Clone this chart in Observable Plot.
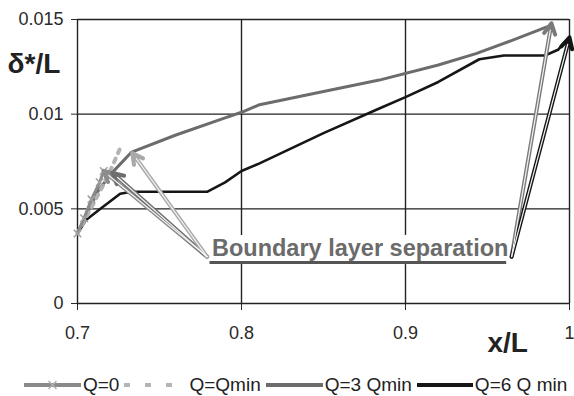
<!DOCTYPE html>
<html>
<head>
<meta charset="utf-8">
<script src="https://cdn.jsdelivr.net/npm/d3@7"></script>
<script src="https://cdn.jsdelivr.net/npm/@observablehq/plot@0.6"></script>
<style>
  html, body { margin: 0; padding: 0; background: #fff; }
  #chart { width: 574px; }
  #legend { width: 574px; height: 46px; display: flex; align-items: center; padding-left: 24px; box-sizing: border-box;
            font-family: "Liberation Sans", Arial, sans-serif; font-size: 19px; color: #222; }
  #legend .item { display: flex; align-items: center; margin-right: 5px; }
  #legend svg { display: block; margin-right: 2px; }
</style>
</head>
<body>
<div id="chart"></div>
<div id="legend"></div>
<script>
// ---- data ----
const xTicks = [0.7, 0.8, 0.9, 1.0];
const xTickLabels = ["0.7", "0.8", "0.9", "1"];
const yTicks = [0, 0.005, 0.01, 0.015];
const yTickLabels = ["0", "0.005", "0.01", "0.015"];

const seriesNames = ["Q=0", "Q=Qmin", "Q=3 Qmin", "Q=6 Q min"];

const xQ0 = [0.7, 0.704, 0.7085, 0.7135, 0.716];
const yQ0 = [0.0037, 0.0045, 0.0055, 0.0064, 0.0070];

const xQmin = [0.7, 0.708, 0.716, 0.722, 0.727];
const yQmin = [0.0037, 0.0050, 0.0063, 0.0074, 0.0084];

const xQ3 = [0.7, 0.706, 0.713, 0.721, 0.733, 0.76, 0.79, 0.8, 0.811, 0.85, 0.884, 0.92, 0.943, 0.965, 0.989];
const yQ3 = [0.0037, 0.0048, 0.0060, 0.0069, 0.0080, 0.0089, 0.0098, 0.0101, 0.0105, 0.0112, 0.0118, 0.0126, 0.0132, 0.0139, 0.0147];

const xQ6 = [0.7, 0.705, 0.714, 0.726, 0.733, 0.75, 0.779, 0.79, 0.8, 0.811, 0.85, 0.884, 0.9, 0.92, 0.945, 0.96, 0.985, 0.993, 1.0];
const yQ6 = [0.0037, 0.0044, 0.0050, 0.0058, 0.0059, 0.0059, 0.0059, 0.0064, 0.0070, 0.0074, 0.0090, 0.0103, 0.0109, 0.0117, 0.0129, 0.0131, 0.0131, 0.0134, 0.0141];

// annotation "Boundary layer separation"
const labelText = "Boundary layer separation";
const labelX = 0.782, labelY = 0.00292;
const underline = {x1: 0.7808, x2: 0.9617, y: 0.00216};
const arrowsFrom = [0.779, 0.779, 0.779, 0.9647, 0.9647];
const arrowsFromY = [0.00247, 0.00247, 0.00247, 0.00247, 0.00247];
const arrowsToX = [0.7158, 0.7213, 0.7334, 0.989, 1.0];
const arrowsToY = [0.0070, 0.0069, 0.00795, 0.0148, 0.01405];
const arrowColors = ["#8c8c8c", "#6e6e6e", "#a9a9a9", "#7a7a7a", "#151515"];

// ---- build tables ----
const pts = (xs, ys) => xs.map((x, i) => ({x, y: ys[i]}));
const q0 = pts(xQ0, yQ0), qmin = pts(xQmin, yQmin), q3 = pts(xQ3, yQ3), q6 = pts(xQ6, yQ6);
const arrows = arrowsFrom.map((x1, i) => ({x1, y1: arrowsFromY[i], x2: arrowsToX[i], y2: arrowsToY[i], c: arrowColors[i]}));

const colors = {q0: "#8a8a8a", qmin: "#b4b4b4", q3: "#6c6c6c", q6: "#161616"};
const font = "'Liberation Sans', Arial, sans-serif";

const chart = Plot.plot({
  width: 574,
  height: 362,
  marginLeft: 77,
  marginRight: 5,
  marginTop: 19,
  marginBottom: 59,
  style: {fontFamily: font, fontSize: "18px", color: "#2a2a2a", background: "white"},
  x: {domain: [0.7, 1.0], ticks: xTicks, tickFormat: d => xTickLabels[xTicks.indexOf(d)], tickSize: 7, tickPadding: 16, label: null},
  y: {domain: [0, 0.015], ticks: yTicks, tickFormat: d => yTickLabels[yTicks.indexOf(d)], tickSize: 6, tickPadding: 8, label: null},
  marks: [
    Plot.ruleY(yTicks, {stroke: "#222", strokeWidth: 1.4}),
    Plot.ruleX(xTicks, {stroke: "#222", strokeWidth: 1.4}),
    // halo behind label (knocks out gridlines)
    Plot.text([labelText], {x: () => labelX, y: () => labelY, text: d => d, textAnchor: "start", lineAnchor: "middle",
      fontSize: 23.5, fontWeight: "bold", fill: "white", stroke: "white", strokeWidth: 17}),
    Plot.line(q6, {x: "x", y: "y", stroke: colors.q6, strokeWidth: 2.6}),
    Plot.line(q3, {x: "x", y: "y", stroke: colors.q3, strokeWidth: 3}),
    Plot.line(qmin, {x: "x", y: "y", stroke: colors.qmin, strokeWidth: 4, strokeDasharray: "4,6"}),
    Plot.line(q0, {x: "x", y: "y", stroke: colors.q0, strokeWidth: 3}),
    Plot.dot(q0, {x: "x", y: "y", symbol: "times", r: 3.5, stroke: "#a0a0a0", strokeWidth: 1.5}),
    // double-line arrows
    Plot.arrow(arrows, {x1: "x1", y1: "y1", x2: "x2", y2: "y2", stroke: "c", strokeWidth: 4, headLength: 4.5, headAngle: 55}),
    Plot.arrow(arrows, {x1: "x1", y1: "y1", x2: "x2", y2: "y2", stroke: "#f2f2f2", strokeWidth: 1.2, headLength: 0, insetEnd: 7}),
    Plot.ruleY([underline], {y: "y", x1: "x1", x2: "x2", stroke: "#555", strokeWidth: 3}),
    Plot.text([labelText], {x: () => labelX, y: () => labelY, text: d => d, textAnchor: "start", lineAnchor: "middle",
      fontSize: 23.5, fontWeight: "bold", fill: "#6b6b6b"}),
    // axis titles
    Plot.text(["δ*/L"], {frameAnchor: "top-left", text: d => d, textAnchor: "start", lineAnchor: "middle",
      dx: -70, dy: 45, fontSize: 28, fontWeight: "bold", fill: "#222"}),
    Plot.text(["x/L"], {frameAnchor: "bottom-right", text: d => d, textAnchor: "start", lineAnchor: "middle",
      dx: -82, dy: 40, fontSize: 28, fontWeight: "bold", fill: "#222"})
  ]
});
document.getElementById("chart").appendChild(chart);

// ---- legend ----
const legendStyles = [
  {name: seriesNames[0], stroke: colors.q0, width: 57, dash: null, marker: true},
  {name: seriesNames[1], stroke: colors.qmin, width: 63, dash: "6,15", marker: false},
  {name: seriesNames[2], stroke: colors.q3, width: 57, dash: null, marker: false},
  {name: seriesNames[3], stroke: colors.q6, width: 56, dash: null, marker: false}
];
const legend = d3.select("#legend");
legendStyles.forEach(s => {
  const item = legend.append("div").attr("class", "item");
  const svg = item.append("svg").attr("width", s.width).attr("height", 14);
  svg.append("line").attr("x1", 0).attr("x2", s.width).attr("y1", 7).attr("y2", 7)
    .attr("stroke", s.stroke).attr("stroke-width", 4).attr("stroke-dasharray", s.dash);
  if (s.marker) {
    const cx = s.width / 2;
    svg.append("path").attr("d", `M${cx-4},3L${cx+4},11M${cx-4},11L${cx+4},3`).attr("stroke", "#b0b0b0").attr("stroke-width", 1.5);
  }
  item.append("span").text(s.name);
});
</script>
</body>
</html>
